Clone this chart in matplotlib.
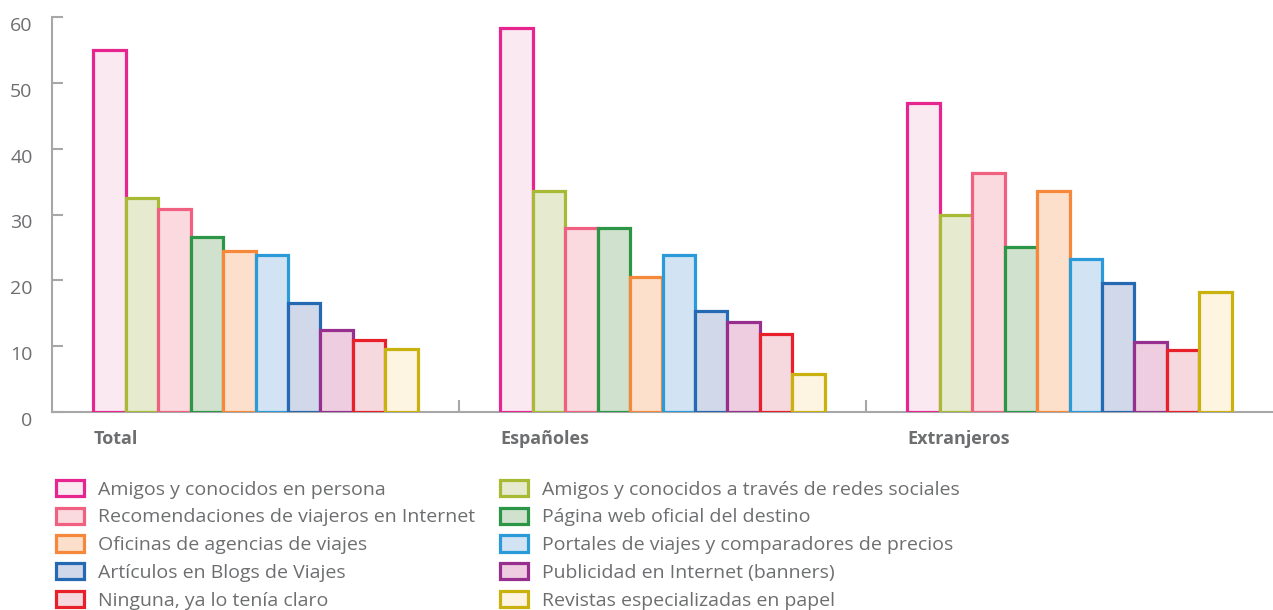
import matplotlib.pyplot as plt
import matplotlib.transforms as mtransforms
from matplotlib.patches import Patch
import numpy as np

plt.rcParams['font.family'] = ['Open Sans', 'DejaVu Sans']

groups = ["Total", "Españoles", "Extranjeros"]
fuentes = [
    "Amigos y conocidos en persona",
    "Amigos y conocidos a través de redes sociales",
    "Recomendaciones de viajeros en Internet",
    "Página web oficial del destino",
    "Oficinas de agencias de viajes",
    "Portales de viajes y comparadores de precios",
    "Artículos en Blogs de Viajes",
    "Publicidad en Internet (banners)",
    "Ninguna, ya lo tenía claro",
    "Revistas especializadas en papel",
]
total = [55.0, 32.5, 30.8, 26.6, 24.4, 23.8, 16.5, 12.5, 11.0, 9.5]
espanoles = [58.3, 33.6, 28.0, 28.0, 20.5, 23.8, 15.3, 13.7, 11.9, 5.8]
extranjeros = [47.0, 30.0, 36.3, 25.1, 33.6, 23.3, 19.6, 10.6, 9.4, 18.2]
y_ticks = [0, 10, 20, 30, 40, 50, 60]

edge_colors = ["#e6258e", "#a8b934", "#f06080", "#2a9646", "#f5883a",
               "#2a9ad9", "#2569b3", "#972f8f", "#e8202a", "#c9b20e"]
face_colors = ["#fbe9f2", "#e6ebcf", "#fbdadf", "#d0e2cd", "#fde0cb",
               "#d2e3f3", "#d0d8ea", "#eecde1", "#f6d9de", "#fdf4e1"]

grey = "#a7a7a9"
text_grey = "#6d6e70"

fig = plt.figure(figsize=(12.73, 6.10), dpi=100)
ax = fig.add_axes([52 / 1273, 1 - 412 / 610, 1 - 52 / 1273, 395 / 610])

values = np.array([total, espanoles, extranjeros])
n = len(fuentes)
span = 0.797
width = span / n
x = np.arange(len(groups))
for i in range(n):
    pos = x - span / 2 + width * (i + 0.5)
    ax.bar(pos, values[:, i], width=width, color=face_colors[i],
           edgecolor=edge_colors[i], linewidth=2.3, zorder=3)

ax.set_xlim(-0.5, 2.5)
ax.set_ylim(0, 60)

for s in ["top", "right"]:
    ax.spines[s].set_visible(False)
for s in ["left", "bottom"]:
    ax.spines[s].set_color(grey)
    ax.spines[s].set_linewidth(1.5)

ax.set_yticks(y_ticks)
ax.tick_params(axis="y", direction="in", length=8, width=1.5, color=grey,
               labelsize=14, labelcolor=text_grey, pad=14)
shift = mtransforms.ScaledTranslation(0, -0.07, fig.dpi_scale_trans)
for lab in ax.get_yticklabels():
    lab.set_transform(lab.get_transform() + shift)

# small separators between groups
ax.set_xticks([0.5, 1.5])
ax.set_xticklabels([])
ax.tick_params(axis="x", direction="in", length=9, width=1.5, color=grey)

for xi, g in zip(x, groups):
    ax.text(xi - span / 2, -4.1, g, ha="left", va="center", fontsize=13,
            fontweight="bold", color=text_grey)

handles = [Patch(facecolor=face_colors[i], edgecolor=edge_colors[i], linewidth=2.3,
                 label=fuentes[i]) for i in range(n)]
leg_kw = dict(frameon=False, fontsize=14, handlelength=1.45, handleheight=0.9,
              handletextpad=0.7, labelspacing=0.46, labelcolor=text_grey,
              borderaxespad=0, borderpad=0)
leg1 = fig.legend(handles=handles[0::2], loc="upper left",
                  bbox_to_anchor=(56 / 1273, 1 - 480 / 610), **leg_kw)
leg2 = fig.legend(handles=handles[1::2], loc="upper left",
                  bbox_to_anchor=(500 / 1273, 1 - 480 / 610), **leg_kw)

fig.savefig("out.png", dpi=100)
